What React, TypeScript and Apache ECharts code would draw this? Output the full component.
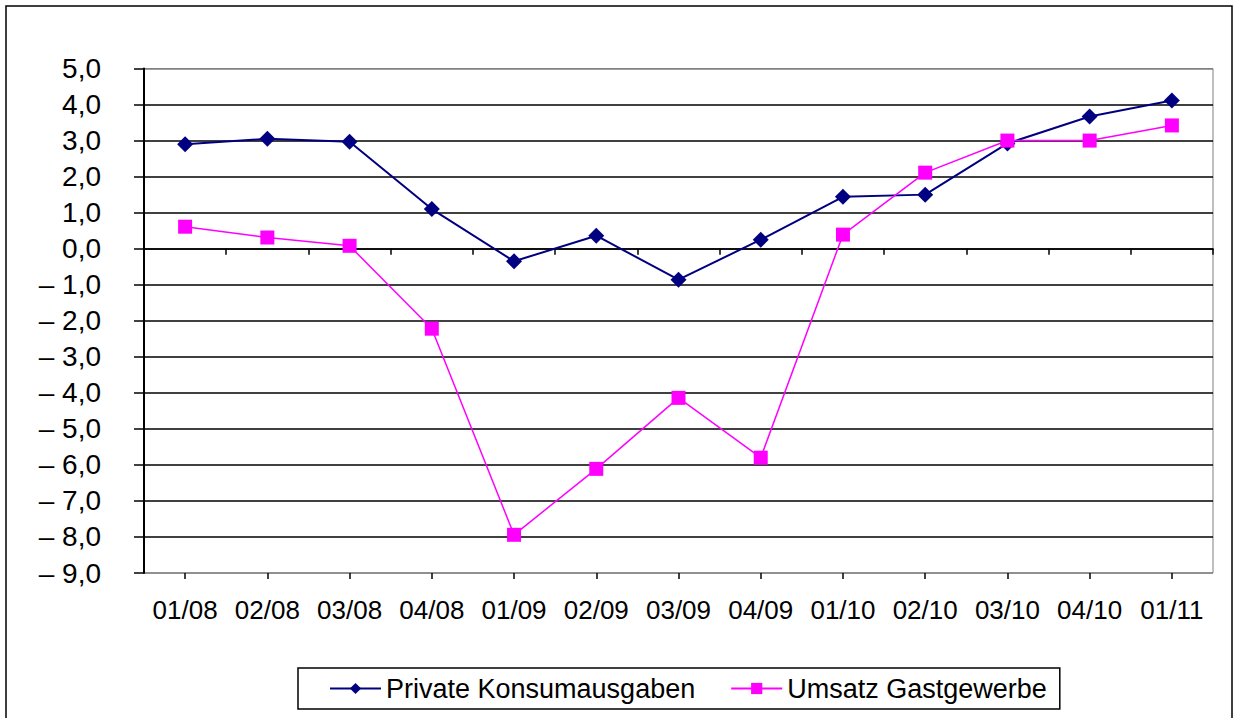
import React, { useEffect, useRef } from "react";
import * as echarts from "echarts";

const categories = ["01/08", "02/08", "03/08", "04/08", "01/09", "02/09", "03/09", "04/09", "01/10", "02/10", "03/10", "04/10", "01/11"];
const privateKonsum = [2.9, 3.05, 2.97, 1.1, -0.35, 0.36, -0.86, 0.25, 1.44, 1.5, 2.92, 3.67, 4.11];
const umsatzGastgewerbe = [0.61, 0.31, 0.08, -2.22, -7.94, -6.11, -4.14, -5.8, 0.39, 2.11, 3.0, 3.0, 3.42];
const seriesNames = ["Private Konsumausgaben", "Umsatz Gastgewerbe"];
const yMin = -9;
const yMax = 5;
const yInterval = 1;

const FONT = "'Liberation Sans', Arial, sans-serif";

function fmt(v: number): string {
  const s = Math.abs(v).toFixed(1).replace(".", ",");
  return v < 0 ? "\u2013 " + s : s;
}

export default function App() {
  const ref = useRef<HTMLDivElement>(null);
  useEffect(() => {
    if (!ref.current) return;
    const chart = echarts.init(ref.current, undefined, { renderer: "svg" });
    const nLines = (yMax - yMin) / yInterval + 1;
    const splitColors: string[] = [];
    for (let i = 0; i < nLines; i++) splitColors.push(i === 0 || i === nLines - 1 ? "#808080" : "#000000");
    chart.setOption({
      animation: false,
      backgroundColor: "#ffffff",
      textStyle: { fontFamily: FONT },
      grid: { left: 144, right: 22, top: 68.5, bottom: 145, show: true, borderColor: "#808080", borderWidth: 1, backgroundColor: "transparent" },
      graphic: [
        {
          type: "rect",
          shape: { x: 6, y: 6, width: 1226, height: 740 },
          style: { fill: "none", stroke: "#000", lineWidth: 1.5 },
          silent: true,
          z: -1,
        },
      ],
      legend: {
        left: 298,
        top: 668,
        orient: "horizontal",
        padding: [7, 13, 7, 31],
        borderColor: "#000",
        borderWidth: 1.5,
        itemWidth: 51,
        itemHeight: 14,
        itemGap: 35,
        textStyle: { fontSize: 27, fontFamily: FONT, color: "#000" },
        data: seriesNames,
      },
      xAxis: [
        {
          type: "category",
          data: categories,
          boundaryGap: true,
          position: "bottom",
          axisLine: { show: false, onZero: false },
          axisTick: { show: false },
          axisLabel: { fontSize: 26, color: "#000", margin: 24, fontFamily: FONT, interval: 0 },
          splitLine: { show: false },
        },
        {
          type: "category",
          data: categories,
          boundaryGap: true,
          position: "bottom",
          axisLine: { show: true, onZero: true, lineStyle: { color: "#000", width: 1.5 } },
          axisTick: { show: true, alignWithLabel: false, interval: 0, length: 6, lineStyle: { color: "#000", width: 1.5 } },
          axisLabel: { show: false, interval: 0 },
          splitLine: { show: false },
        },
        {
          type: "category",
          data: categories,
          boundaryGap: true,
          position: "bottom",
          axisLine: { show: false, onZero: true },
          axisTick: { show: true, alignWithLabel: true, interval: 0, length: 6, lineStyle: { color: "#000", width: 1.5 } },
          axisLabel: { show: false, interval: 0 },
          splitLine: { show: false },
        },
      ],
      yAxis: {
        type: "value",
        min: yMin,
        max: yMax,
        interval: yInterval,
        axisLine: { show: true, lineStyle: { color: "#000", width: 2 } },
        axisTick: { show: true, length: 10, lineStyle: { color: "#000", width: 1.5 } },
        axisLabel: { fontSize: 28, color: "#000", margin: 43, formatter: fmt, fontFamily: FONT },
        splitLine: { show: true, lineStyle: { color: splitColors, width: 1.5 } },
      },
      series: [
        {
          name: seriesNames[0],
          type: "line",
          xAxisIndex: 0,
          data: privateKonsum,
          symbol: "diamond",
          symbolSize: 16,
          lineStyle: { color: "#000080", width: 2 },
          itemStyle: { color: "#000080" },
          z: 3,
        },
        {
          name: seriesNames[1],
          type: "line",
          xAxisIndex: 0,
          data: umsatzGastgewerbe,
          symbol: "rect",
          symbolSize: 14,
          lineStyle: { color: "#FF00FF", width: 1.5 },
          itemStyle: { color: "#FF00FF" },
          z: 4,
        },
      ],
    });
    return () => chart.dispose();
  }, []);
  return (
    <div style={{ position: "absolute", left: 0, top: 0, width: 1235, height: 718, overflow: "hidden" }}>
      <div ref={ref} style={{ width: 1235, height: 718 }} />
    </div>
  );
}
